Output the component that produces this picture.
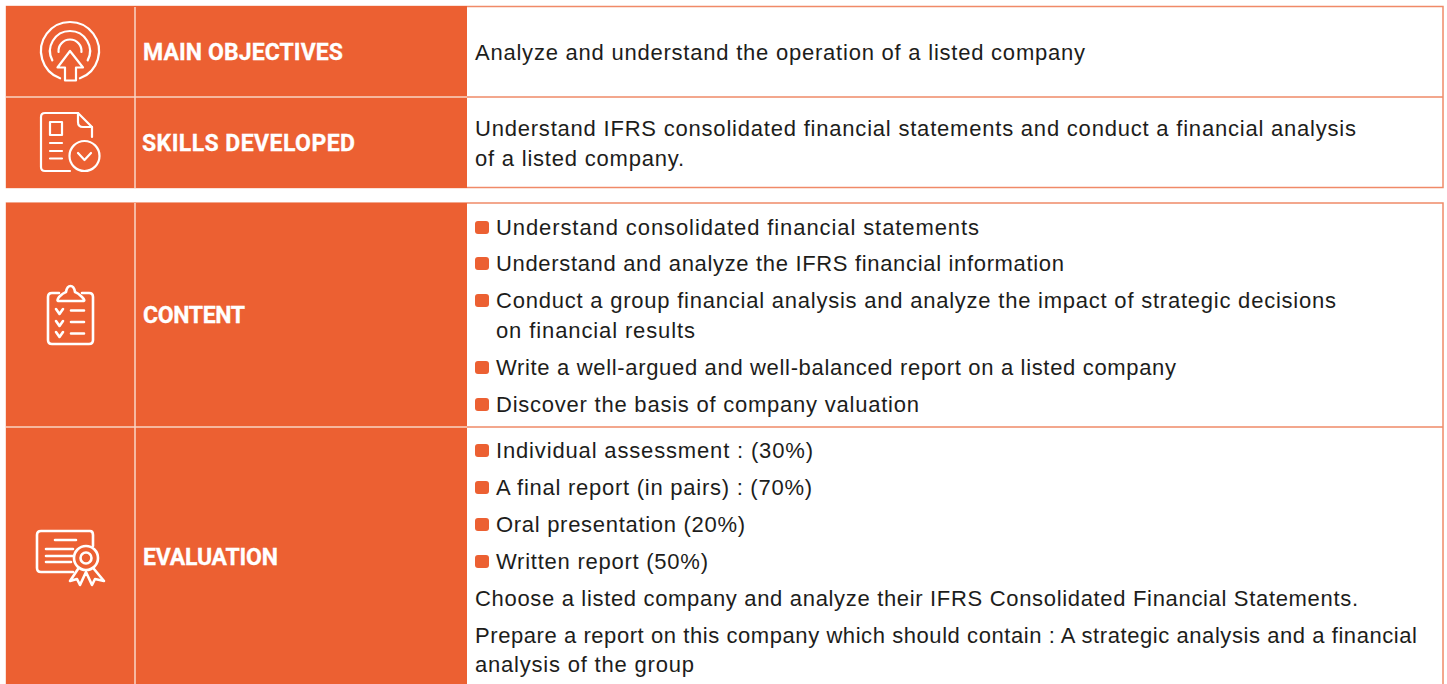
import React from "react";

const ORANGE = "#ec6032";
const BORDER = "#f08a68";
const INK = "#1d1d1b";

const headings = ["MAIN OBJECTIVES", "SKILLS DEVELOPED", "CONTENT", "EVALUATION"];
const headingBaselines = [60, 151, 323, 565];
const headingXs = [143, 142, 143, 143];
const headingWidths = [200, 213, 102, 135];

const plainLines = [
  "Analyze and understand the operation of a listed company",
  "Understand IFRS consolidated financial statements and conduct a financial analysis",
  "of a listed company.",
  "Choose a listed company and analyze their IFRS Consolidated Financial Statements.",
  "Prepare a report on this company which should contain : A strategic analysis and a financial",
  "analysis of the group",
];
const plainBaselines = [60, 136, 166, 606, 643, 672];
const plainWidths = [610, 881, 209, 883, 942, 219];

const bulletLines = [
  "Understand consolidated financial statements",
  "Understand and analyze the IFRS financial information",
  "Conduct a group financial analysis and analyze the impact of strategic decisions",
  "Write a well-argued and well-balanced report on a listed company",
  "Discover the basis of company valuation",
  "Individual assessment : (30%)",
  "A final report (in pairs) : (70%)",
  "Oral presentation (20%)",
  "Written report (50%)",
];
const bulletBaselines = [235, 271, 308, 375, 412, 458, 495, 532, 569];
const bulletWidths = [483, 568, 840, 680, 423, 317, 316, 249, 212];
const continuationLine = "on financial results";
const continuationBaseline = 338;
const continuationWidth = 199;

const FONT = "'Liberation Sans', Arial, sans-serif";
const SIZE = 22;
const S = { fill: "none", stroke: "#fff", strokeWidth: 2.2, strokeLinecap: "round" as const, strokeLinejoin: "round" as const };

function arc(cx: number, cy: number, r: number, a0: number, a1: number) {
  const p = (a: number) => [cx + r * Math.sin((a * Math.PI) / 180), cy - r * Math.cos((a * Math.PI) / 180)];
  const [x0, y0] = p(a0);
  const [x1, y1] = p(a1);
  return `M${x0} ${y0}A${r} ${r} 0 ${a1 - a0 > 180 ? 1 : 0} 1 ${x1} ${y1}`;
}

function IconTarget() {
  return (
    <g {...S}>
      <path d={arc(70, 51, 29, 200, 520)} />
      <path d={arc(70, 51, 20, -118, 118)} />
      <path d={arc(70, 51, 11.5, -95, 95)} />
      <path d="M70 51L83 67.500H76V80.500H65V67.500H57.500Z" fill={ORANGE} />
    </g>
  );
}

function IconDoc() {
  return (
    <g {...S}>
      <path d="M70 171H45Q41 171 41 167V117Q41 113 45 113H78L92 127V137" />
      <path d="M78 113V122Q78 127 83 127H92" />
      <rect x="50" y="122" width="12" height="13" />
      <path d="M50 143H62M50 151H62M50 158.500H62" />
      <circle cx="84.500" cy="156" r="15" />
      <path d="M78 153L84.500 160L91 153" />
    </g>
  );
}

function IconClipboard() {
  return (
    <g {...S} strokeWidth={2.6}>
      <path d="M59 293H52Q48 293 48 297V340Q48 344 52 344H89Q93 344 93 340V297Q93 293 89 293H82" />
      <path d="M59 301H83Q86 301 82 297Q78 293 75 292Q74 286 70.500 286Q67 286 66 292Q63 293 59 297Q56 301 59 301Z" />
      <path d="M56 309L59.500 314L63 309M56 321L59.500 326L63 321M56 332L59.500 337L63 332" />
      <path d="M71 310.500H84M71 322H84M71 333.500H84" />
    </g>
  );
}

function IconCertificate() {
  return (
    <g {...S} strokeWidth={2.6}>
      <path d="M73 572H41Q37 572 37 568V535Q37 531 41 531H90Q93 531 93 535V546" />
      <path d="M55 540H76M46 549H73M46 556H73M46 562H71" />
      <circle cx="86" cy="558" r="12" />
      <circle cx="86" cy="558" r="5.500" />
      <path d="M78 569L70 581L77 579L80 585L86 572L92 585L95 579L104 581L94 569" />
    </g>
  );
}

export default function App() {
  return (
    <svg width={1447} height={684} viewBox="0 0 1447 684" style={{ position: "fixed", left: 0, top: 0, background: "#fff" }}>
      <rect x={6.500} y={6.500} width={1436.500} height={181} fill="#fff" stroke={BORDER} strokeWidth={1.500} />
      <rect x={6.500} y={203} width={1436.500} height={490} fill="#fff" stroke={BORDER} strokeWidth={1.500} />
      <rect x={6} y={6} width={461} height={182} fill={ORANGE} />
      <rect x={6} y={203} width={461} height={481} fill={ORANGE} />
      <path d="M6 97H1443M6 427H1443" stroke={BORDER} strokeWidth={1.500} fill="none" />
      <path d="M6 97H467M6 427H467" stroke="#f9c9b5" strokeWidth={1.500} fill="none" />
      <path d="M135 7V188M135 203V684" stroke="#f9d5c6" strokeWidth={1.500} fill="none" />
      <IconTarget />
      <IconDoc />
      <IconClipboard />
      <IconCertificate />
      {headings.map((h, i) => (
        <text key={h} x={headingXs[i]} y={headingBaselines[i]} fill="#fff" stroke="#fff" strokeWidth={0.3} fontFamily="Roboto, sans-serif" fontWeight={700} fontSize={23} textLength={headingWidths[i]} lengthAdjust="spacing">{h}</text>
      ))}
      {plainLines.map((t, i) => (
        <text key={t} x={475} y={plainBaselines[i]} fill={INK} fontFamily={FONT} fontSize={SIZE} textLength={plainWidths[i]} lengthAdjust="spacing">{t}</text>
      ))}
      {bulletLines.map((t, i) => (
        <g key={t}>
          <rect x={475} y={bulletBaselines[i] - 14} width={14} height={13} rx={3} fill={ORANGE} />
          <text x={496} y={bulletBaselines[i]} fill={INK} fontFamily={FONT} fontSize={SIZE} textLength={bulletWidths[i]} lengthAdjust="spacing">{t}</text>
        </g>
      ))}
      <text x={496} y={continuationBaseline} fill={INK} fontFamily={FONT} fontSize={SIZE} textLength={continuationWidth} lengthAdjust="spacing">{continuationLine}</text>
    </svg>
  );
}
